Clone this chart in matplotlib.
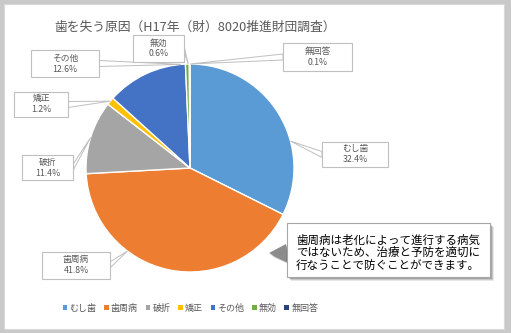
import matplotlib
matplotlib.use("Agg")
import matplotlib.pyplot as plt
from matplotlib.patches import Rectangle, Polygon, Patch
import numpy as np

plt.rcParams['font.family'] = ['Noto Sans CJK JP', 'DejaVu Sans']

# data
causes = ['むし歯', '歯周病', '破折', '矯正', 'その他', '無効', '無回答']
shares = [32.4, 41.8, 11.4, 1.2, 12.6, 0.6, 0.1]
colors = ['#5B9BD5', '#ED7D31', '#A5A5A5', '#FFC000', '#4472C4', '#70AD47', '#264478']
title = '歯を失う原因（H17年（財）8020推進財団調査）'
note_lines = ['歯周病は老化によって進行する病気',
              'ではないため、治療と予防を適切に',
              '行なうことで防ぐことができます。']

W, H = 511, 333
GREY = '#595959'


def py(y):
    # pixel row -> data y
    return H - y


# label boxes (cx, cy, w, h) in pixels, and leader tip angle on the pie
boxes = [(355, 154.5, 66, 25), (76, 265, 68, 27), (47.5, 167.5, 51, 25),
         (41, 104.5, 54, 25), (65, 63.5, 68, 27), (158.5, 48.5, 51, 27),
         (317.5, 57, 69, 28)]
tip_angles = [15, 233, 163, 140, 95, 91, 89.9]
cx, cy, r = 190, 168, 104

fig = plt.figure(figsize=(W / 100, H / 100), dpi=100)
fig.patch.set_facecolor('#c9c9c9')
ax = fig.add_axes([0, 0, 1, 1])

ax.add_patch(Rectangle((4, py(329)), 500, 325, facecolor='white',
                       edgecolor='#d9d9d9', lw=0.8, zorder=0))

wedges, _ = ax.pie(shares, colors=colors, startangle=90, counterclock=False,
                   center=(cx, py(cy)), radius=r,
                   wedgeprops=dict(edgecolor='white', linewidth=1.0))
for w in wedges:
    w.set_zorder(2)

ax.text(54, py(27), title, fontsize=9.2, color=GREY, ha='left', va='center')

# data labels with callout leaders
for name, val, (bx, by, bw, bh), ang in zip(causes, shares, boxes, tip_angles):
    tx = cx + r * np.cos(np.radians(ang))
    ty = py(cy) + r * np.sin(np.radians(ang))
    x0, x1 = bx - bw / 2, bx + bw / 2
    y0, y1 = py(by + bh / 2), py(by - bh / 2)
    if tx < x0:
        base = [(x0, py(by) + 3), (x0, py(by) - 3)]
    elif tx > x1:
        base = [(x1, py(by) + 3), (x1, py(by) - 3)]
    elif ty > y1:
        base = [(bx - 3, y1), (bx + 3, y1)]
    else:
        base = [(bx - 3, y0), (bx + 3, y0)]
    ax.add_patch(Polygon(base + [(tx, ty)], closed=True, facecolor='white',
                         edgecolor='#bfbfbf', lw=0.7, zorder=3))
    ax.add_patch(Rectangle((x0, y0), bw, bh, facecolor='white',
                           edgecolor='#bfbfbf', lw=0.8, zorder=4))
    ax.text(bx, py(by - 5.5), name, fontsize=6.3, color=GREY,
            ha='center', va='center', zorder=5)
    ax.text(bx, py(by + 5.5), f'{val}%', fontsize=6.3, color=GREY,
            ha='center', va='center', zorder=5)

# note box with shadow and pointer
for k, a in enumerate([0.12, 0.18, 0.25, 0.35]):
    off = 4 - k
    ax.add_patch(Rectangle((287 + off, py(277 + off)), 203, 54,
                           facecolor='#404040', edgecolor='none', alpha=a, zorder=5))
    ax.add_patch(Polygon([(269 + off, py(253 + off)), (286 + off, py(244 + off)),
                          (286 + off, py(261 + off))], closed=True,
                         facecolor='#404040', edgecolor='none', alpha=a, zorder=5))
ax.add_patch(Polygon([(269, py(253)), (286, py(244)), (286, py(261))], closed=True,
                     facecolor='#8c8c8c', edgecolor='none', zorder=6))
ax.add_patch(Rectangle((287, py(277)), 203, 54, facecolor='white',
                       edgecolor='#a6a6a6', lw=0.8, zorder=6))
for i, line in enumerate(note_lines):
    ax.text(296, py(240 + 12.5 * i), line, fontsize=8.3, color='black',
            ha='left', va='center', zorder=7)

handles = [Patch(facecolor=c, edgecolor='none') for c in colors]
leg = fig.legend(handles, causes, loc='center', ncol=7,
                 bbox_to_anchor=(190.5 / W, 1 - 308 / H), frameon=False,
                 fontsize=6.5, handlelength=0.5, handleheight=0.5,
                 handletextpad=0.25, columnspacing=0.85)
for t in leg.get_texts():
    t.set_color(GREY)

ax.set_xlim(0, W)
ax.set_ylim(0, H)
ax.axis('off')

fig.savefig('out.png', dpi=100, facecolor=fig.get_facecolor())
